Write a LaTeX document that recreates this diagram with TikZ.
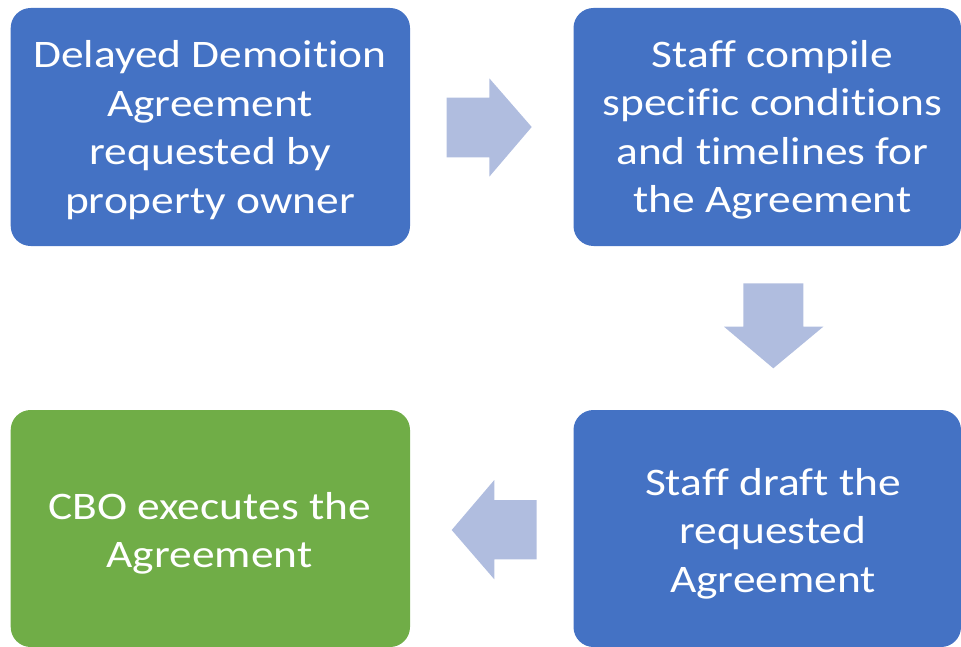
\documentclass[tikz,border=0pt]{standalone}
\usepackage{fontspec}
\setmainfont{Carlito}[FakeStretch=1.165, Ligatures={NoCommon}]
\definecolor{boxblue}{RGB}{68,114,196}
\definecolor{boxgreen}{RGB}{112,173,71}
\definecolor{arrowfill}{RGB}{176,189,223}
\tikzset{
  box/.style={rounded corners=20pt},
  txt/.style={text=white, align=center, inner sep=0pt, font=\fontsize{39}{48.5}\selectfont},
  bigarrow/.style={fill=arrowfill, draw=none}
}
\begin{document}
\begin{tikzpicture}[x=1pt,y=-1pt]
\useasboundingbox (0,0) rectangle (961,647);
% boxes
\fill[boxblue, box] (10.7,8) rectangle (410,246);
\fill[boxblue, box] (573.5,8) rectangle (961,246);
\fill[boxblue, box] (573.5,410) rectangle (961,647);
\fill[boxgreen, box] (10.7,410) rectangle (410,647);
% texts
\node[txt] (t1) at (210,130) {Delayed Demoition\\Agreement\\requested by\\property owner};
\node[txt] (t2) at (772.5,130) {Staff compile\\specific conditions\\and timelines for\\the Agreement};
\node[txt] (t3) at (773,533.5) {Staff draft the\\requested\\Agreement};
\node[txt] (t4) at (209.5,533.5) {CBO executes the\\Agreement};
% arrows
\fill[bigarrow] (446.7,97.7) -- (489.3,97.7) -- (489.3,78.3) -- (531.7,127) -- (489.3,176.7) -- (489.3,157.3) -- (446.7,157.3) -- cycle;
\fill[bigarrow] (743.3,283.3) -- (803.3,283.3) -- (803.3,326.7) -- (823.3,326.7) -- (773.3,368.3) -- (724,326.7) -- (743.3,326.7) -- cycle;
\fill[bigarrow] (536.7,500) -- (494.3,500) -- (494.3,480) -- (451.7,530) -- (494.3,579.3) -- (494.3,559.3) -- (536.7,559.3) -- cycle;
\end{tikzpicture}
\end{document}
